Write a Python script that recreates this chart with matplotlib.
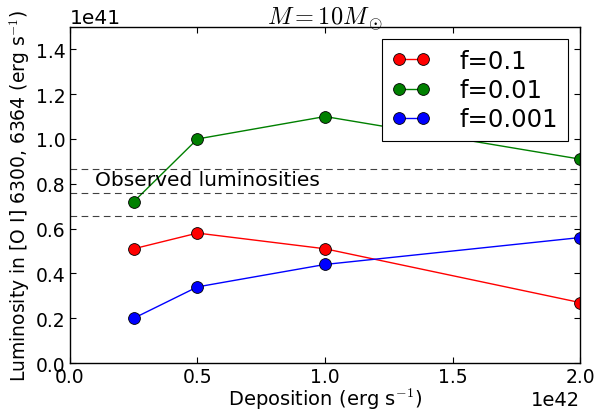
import matplotlib
matplotlib.use("Agg")
import matplotlib.pyplot as plt

deposition = [0.25e42, 0.5e42, 1.0e42, 2.0e42]
lum_f01 = [0.51e41, 0.58e41, 0.51e41, 0.27e41]
lum_f001 = [0.72e41, 1.00e41, 1.10e41, 0.91e41]
lum_f0001 = [0.20e41, 0.34e41, 0.44e41, 0.56e41]
observed = [0.865e41, 0.76e41, 0.655e41]
labels = ["f=0.1", "f=0.01", "f=0.001"]
colors = ["red", "green", "blue"]

plt.rcParams['font.family'] = ['DejaVu Sans']
plt.rcParams['mathtext.fontset'] = 'cm'
fig = plt.figure(figsize=(5.98, 4.10), dpi=100)
ax = fig.add_axes([0.117, 0.112, 0.853, 0.820])

for ys, c, lab in zip([lum_f01, lum_f001, lum_f0001], colors, labels):
    ax.plot(deposition, ys, '-o', color=c, markerfacecolor=c, markeredgecolor='black',
            markeredgewidth=0.6, markersize=8.5, linewidth=1, label=lab)

for v in observed:
    ax.axhline(v, color='black', linestyle=(0, (6, 4)), linewidth=0.8, alpha=0.75)
ax.text(0.1e42, 0.82e41, "Observed luminosities", fontsize=14.5, va='center', ha='left')

ax.set_xlim(0, 2.0e42)
ax.set_ylim(0, 1.5e41)
ax.set_xticks([0, 0.5e42, 1.0e42, 1.5e42, 2.0e42])
ax.set_yticks([0, 0.2e41, 0.4e41, 0.6e41, 0.8e41, 1.0e41, 1.2e41, 1.4e41])
ax.tick_params(direction='in', top=True, right=True, labelsize=13.5, length=4, pad=3)
ax.xaxis.get_offset_text().set_fontsize(14)
ax.yaxis.get_offset_text().set_fontsize(14.5)
for s in ax.spines.values():
    s.set_linewidth(1.0)
ax.set_xlabel("Deposition (erg s$^{-1}$)", fontsize=14, labelpad=0)
ax.set_ylabel("Luminosity in [O I] 6300, 6364 (erg s$^{-1}$)", fontsize=13.5, labelpad=3)
ax.set_title(r"$M = 10 M_\odot$", fontsize=17.5, pad=2)

leg = ax.legend(loc='upper right', numpoints=2, fontsize=17.5, fancybox=False,
                framealpha=1, edgecolor='black', borderaxespad=0.5, handlelength=1.6,
                labelspacing=0.22, handletextpad=1.2, markerscale=1.0)
leg.get_frame().set_linewidth(0.8)

fig.savefig("out.png", dpi=100)
